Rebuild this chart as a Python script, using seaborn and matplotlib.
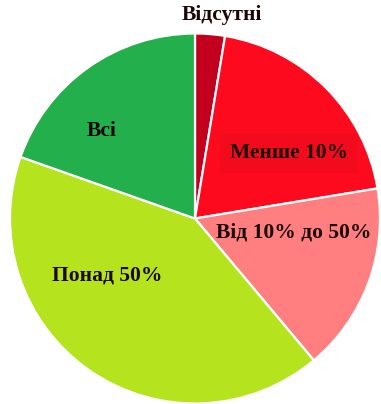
import matplotlib
matplotlib.use("Agg")
import matplotlib.pyplot as plt
import seaborn as sns

# Shares of each category (percent), clockwise from the top
categories = ["Відсутні", "Менше 10%", "Від 10% до 50%", "Понад 50%", "Всі"]
shares = [2.6, 19.8, 16.5, 41.5, 19.6]
colors = ["#C2001E", "#FE0A1E", "#FF7F80", "#B5E41E", "#22AF4C"]

sns.set_theme(style="white")
plt.rcParams["font.family"] = ["Liberation Serif", "DejaVu Serif"]

W, H = 381, 404
fig = plt.figure(figsize=(W / 100, H / 100), dpi=100)
fig.patch.set_facecolor("white")

# Pie centre and radius in pixels
cx, cy, r = 195, 218.5, 185
ax = fig.add_axes([(cx - r) / W, (H - cy - r) / H, 2 * r / W, 2 * r / H])
ax.pie(shares, colors=colors, startangle=90, counterclock=False, radius=1,
       wedgeprops=dict(edgecolor="white", linewidth=1.6))
ax.set_xlim(-1, 1)
ax.set_ylim(-1, 1)
ax.set_aspect("equal")
ax.axis("off")

# Label anchor points in pixel space
label_px = [(222, 15), (289, 153), (294, 233), (107, 275), (102, 131)]
for name, (px, py) in zip(categories, label_px):
    x = (px - cx) / r
    y = (cy - py) / r
    kw = {}
    if name == "Менше 10%":
        kw["bbox"] = dict(boxstyle="square,pad=0.45", fc="#F40A1D",
                          ec="none")
    ax.text(x, y, name, ha="center", va="center", fontsize=15.5,
            fontweight="bold", color="#1a0808", clip_on=False, **kw)

fig.savefig("out.png", dpi=100)
